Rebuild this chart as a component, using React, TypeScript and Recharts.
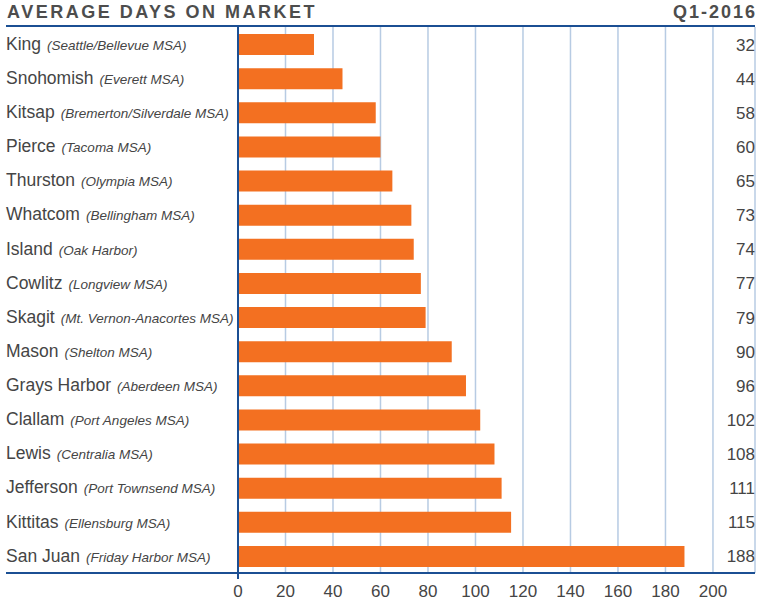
import React from "react";
import { BarChart, Bar, XAxis, YAxis, CartesianGrid, LabelList } from "recharts";

const counties = [
  "King",
  "Snohomish",
  "Kitsap",
  "Pierce",
  "Thurston",
  "Whatcom",
  "Island",
  "Cowlitz",
  "Skagit",
  "Mason",
  "Grays Harbor",
  "Clallam",
  "Lewis",
  "Jefferson",
  "Kittitas",
  "San Juan",
];

const areas = [
  "(Seattle/Bellevue MSA)",
  "(Everett MSA)",
  "(Bremerton/Silverdale MSA)",
  "(Tacoma MSA)",
  "(Olympia MSA)",
  "(Bellingham MSA)",
  "(Oak Harbor)",
  "(Longview MSA)",
  "(Mt. Vernon-Anacortes MSA)",
  "(Shelton MSA)",
  "(Aberdeen MSA)",
  "(Port Angeles MSA)",
  "(Centralia MSA)",
  "(Port Townsend MSA)",
  "(Ellensburg MSA)",
  "(Friday Harbor MSA)",
];

const days = [32, 44, 58, 60, 65, 73, 74, 77, 79, 90, 96, 102, 108, 111, 115, 188];

const xTicks = [0, 20, 40, 60, 80, 100, 120, 140, 160, 180, 200];

const data = counties.map((county, i) => ({ county, area: areas[i], days: days[i] }));

const FONT = "'Liberation Sans', Arial, sans-serif";
const TEXT = "#454545";
const NAVY = "#1b4f93";
const ORANGE = "#f37021";

const CountyTick = (props: any) => {
  const { y, payload } = props;
  const i = counties.indexOf(payload.value);
  return (
    <text x={6} y={y} dy="0.36em" fill={TEXT} fontFamily={FONT} textAnchor="start">
      <tspan fontSize={17.5}>{payload.value}</tspan>
      <tspan fontSize={13.5} fontStyle="italic" dx={6}>
        {areas[i]}
      </tspan>
    </text>
  );
};

const ValueLabel = (props: any) => {
  const { y, height, value } = props;
  return (
    <text
      x={755}
      y={y + height / 2}
      dy="0.36em"
      textAnchor="end"
      fill={TEXT}
      fontFamily={FONT}
      fontSize={17}
    >
      {value}
    </text>
  );
};

export default function App() {
  return (
    <div
      style={{
        position: "absolute",
        left: 0,
        top: 0,
        width: 760,
        height: 614,
        background: "#fff",
        fontFamily: FONT,
      }}
    >
      <div
        style={{
          position: "absolute",
          left: 7,
          top: 2,
          fontSize: 18,
          fontWeight: "bold",
          letterSpacing: 2.5,
          color: "#4d4d4d",
          lineHeight: "20px",
        }}
      >
        AVERAGE DAYS ON MARKET
      </div>
      <div
        style={{
          position: "absolute",
          right: 5,
          top: 2,
          fontSize: 18,
          fontWeight: "bold",
          letterSpacing: 2,
          color: "#4d4d4d",
          lineHeight: "20px",
          marginRight: -2,
        }}
      >
        Q1-2016
      </div>
      <BarChart
        width={760}
        height={614}
        data={data}
        layout="vertical"
        margin={{ top: 27, right: 5, left: 0, bottom: 0 }}
      >
        <CartesianGrid horizontal={false} stroke="#b7cbe3" strokeWidth={1.5} />
        <XAxis
          type="number"
          domain={[0, 217.7]}
          ticks={xTicks}
          height={41}
          axisLine={false}
          tickLine={false}
          tickMargin={6}
          tick={{ fontSize: 17, fill: TEXT, fontFamily: FONT }}
        />
        <YAxis
          type="category"
          dataKey="county"
          width={238}
          axisLine={false}
          tickLine={false}
          tick={<CountyTick />}
          interval={0}
        />
        <Bar dataKey="days" fill={ORANGE} barSize={21} isAnimationActive={false}>
          <LabelList dataKey="days" content={<ValueLabel />} />
        </Bar>
      </BarChart>
      <div style={{ position: "absolute", left: 6, top: 25, width: 749, height: 2, background: NAVY }} />
      <div style={{ position: "absolute", left: 6, top: 572, width: 749, height: 2, background: NAVY }} />
      <div style={{ position: "absolute", left: 237, top: 27, width: 2, height: 552, background: NAVY }} />
    </div>
  );
}
